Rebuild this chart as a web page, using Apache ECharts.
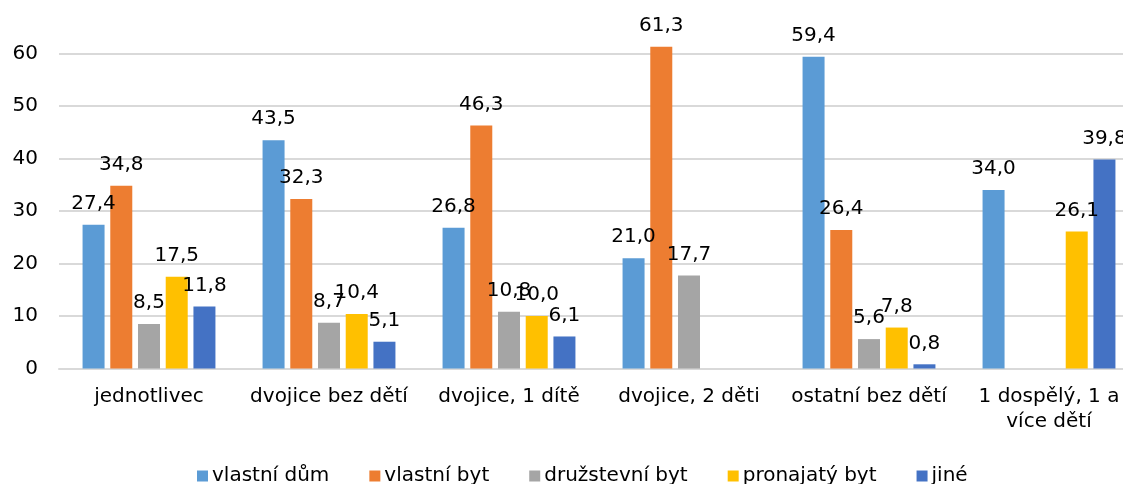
<!DOCTYPE html>
<html>
<head>
<meta charset="utf-8">
<script src="https://cdn.jsdelivr.net/npm/echarts@6/dist/echarts.min.js"></script>
<style>
  html, body { margin: 0; padding: 0; background: #fff; }
  #main { width: 1123px; height: 484px; }
</style>
</head>
<body>
<div id="main"></div>
<script>
var categories = ['jednotlivec', 'dvojice bez dětí', 'dvojice, 1 dítě', 'dvojice, 2 děti', 'ostatní bez dětí', '1 dospělý, 1 a\nvíce dětí'];
var seriesNames = ['vlastní dům', 'vlastní byt', 'družstevní byt', 'pronajatý byt', 'jiné'];
var vlastniDum = [27.4, 43.5, 26.8, 21.0, 59.4, 34.0];
var vlastniByt = [34.8, 32.3, 46.3, 61.3, 26.4, null];
var druzstevniByt = [8.5, 8.7, 10.8, 17.7, 5.6, null];
var pronajatyByt = [17.5, 10.4, 10.0, null, 7.8, 26.1];
var jine = [11.8, 5.1, 6.1, null, 0.8, 39.8];
var colors = ['#5B9BD5', '#ED7D31', '#A5A5A5', '#FFC000', '#4472C4'];

var chartDom = document.getElementById('main');
var myChart = echarts.init(chartDom);

var font = 'DejaVu Sans, Verdana, sans-serif';
var values = [vlastniDum, vlastniByt, druzstevniByt, pronajatyByt, jine];

var series = seriesNames.map(function (name, i) {
  return {
    name: name,
    type: 'bar',
    data: values[i],
    barWidth: 22,
    barGap: '26%',
    clip: false,
    itemStyle: { color: colors[i] },
    label: {
      show: true,
      position: 'top',
      distance: 11,
      color: '#000',
      fontFamily: font,
      fontSize: 20,
      formatter: function (p) {
        return p.value == null ? '' : p.value.toFixed(1).replace('.', ',');
      }
    }
  };
});

var option = {
  color: colors,
  animation: false,
  grid: { left: 59, right: -16, top: 53.5, bottom: 115.5, containLabel: false, outerBoundsMode: 'none' },
  legend: {
    left: 192,
    top: 461,
    icon: 'rect',
    itemWidth: 11,
    itemHeight: 11,
    itemGap: 40,
    textStyle: { color: '#000', fontFamily: font, fontSize: 20, padding: [0, 0, 0, -1] },
    data: seriesNames
  },
  xAxis: {
    type: 'category',
    data: categories,
    axisLine: { lineStyle: { color: '#D9D9D9', width: 2 } },
    axisTick: { show: false },
    axisLabel: {
      color: '#000',
      fontFamily: font,
      fontSize: 20,
      lineHeight: 25,
      margin: 16,
      interval: 0
    }
  },
  yAxis: {
    type: 'value',
    min: 0,
    max: 60,
    interval: 10,
    axisLine: { show: false },
    axisTick: { show: false },
    splitLine: { lineStyle: { color: '#D9D9D9', width: 2 } },
    axisLabel: { color: '#000', fontFamily: font, fontSize: 20, margin: 21 }
  },
  series: series
};

myChart.setOption(option);
</script>
</body>
</html>
